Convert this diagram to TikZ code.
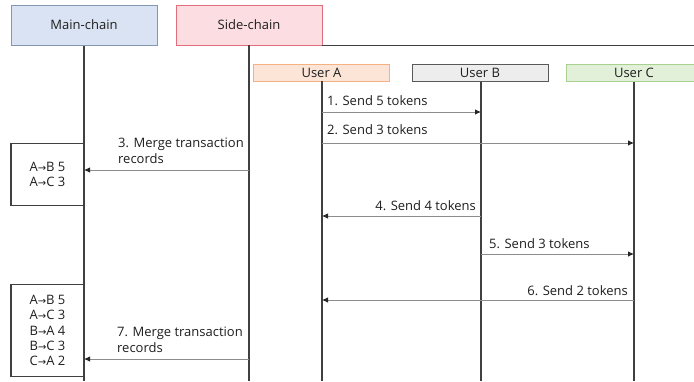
\documentclass[tikz,border=0pt]{standalone}
\usepackage{fontspec}
\setmainfont{Open Sans}
\newfontfamily\arrfont{DejaVu Sans}
\usetikzlibrary{arrows.meta}
\definecolor{mainfill}{RGB}{218,227,243}
\definecolor{maindraw}{RGB}{132,151,176}
\definecolor{sidefill}{RGB}{251,221,226}
\definecolor{sidedraw}{RGB}{226,110,124}
\definecolor{afill}{RGB}{252,228,214}
\definecolor{adraw}{RGB}{244,177,131}
\definecolor{bfill}{RGB}{237,237,237}
\definecolor{bdraw}{RGB}{89,89,89}
\definecolor{cfill}{RGB}{226,240,217}
\definecolor{cdraw}{RGB}{169,209,142}
\definecolor{txt}{RGB}{30,30,30}
\definecolor{lifec}{RGB}{64,64,64}
\definecolor{msgc}{RGB}{140,140,140}
\newcommand{\ar}{{\arrfont\fontsize{10}{15}\selectfont →}}
\begin{document}
\begin{tikzpicture}[x=1pt,y=-1pt,
  font=\fontsize{13}{15.5}\selectfont, text=txt,
  hdr/.style={draw, line width=1pt, minimum width=146pt, minimum height=40pt, inner sep=0pt},
  usr/.style={draw, line width=1pt, minimum width=136pt, minimum height=17pt, inner sep=0pt},
  life/.style={draw=lifec, line width=1.2pt},
  msg/.style={draw=msgc, line width=0.8pt, arrows={-{Latex[length=6pt,width=5.5pt,color=black!85]}}},
  lbl/.style={inner sep=0pt, align=left},
  rec/.style={draw=lifec, line width=1.2pt, inner sep=0pt, align=center, minimum width=73pt, font=\fontsize{13}{15.4}\selectfont}]
\useasboundingbox (0,0) rectangle (694,381);
% headers
\node[hdr, fill=mainfill, draw=maindraw] (main) at (84,25) {Main-chain};
\node[hdr, fill=sidefill, draw=sidedraw] (side) at (249,25) {Side-chain};
\node[usr, fill=afill, draw=adraw] (ua) at (321.5,72.5) {User A};
\node[usr, fill=bfill, draw=bdraw] (ub) at (480,73) {User B};
\node[usr, fill=cfill, draw=cdraw] (uc) at (634,73) {User C};
% lifeline ends
\coordinate (mainEnd) at (84,381);
\coordinate (sideTop) at (249,45);
\coordinate (sideEnd) at (249,381);
\coordinate (aTop) at (322,81);
\coordinate (aEnd) at (322,381);
\coordinate (bTop) at (481,82);
\coordinate (bEnd) at (481,381);
\coordinate (cTop) at (634,82);
\coordinate (cEnd) at (634,381);
\coordinate (sideR) at (322,45.5);
\coordinate (frameR) at (694,45.5);
\draw[life] (main.south) -- (mainEnd);
\draw[life] (sideTop) -- (sideEnd);
\draw[life] (sideR) -- (frameR);
\draw[life] (aTop) -- (aEnd);
\draw[life] (bTop) -- (bEnd);
\draw[life] (cTop) -- (cEnd);
% record boxes
\node[rec, minimum height=62pt] (rec1) at (47.5,174.5) {A\ar B 5\\A\ar C 3};
\node[rec, minimum height=92pt] (rec2) at (47.5,330.5) {A\ar B 5\\A\ar C 3\\B\ar A 4\\B\ar C 3\\C\ar A 2};
% message points
\coordinate (m1s) at (322,112); \coordinate (m1e) at (481,112);
\coordinate (m2s) at (322,143); \coordinate (m2e) at (634,143);
\coordinate (m3s) at (249,170); \coordinate (m3e) at (84,170);
\coordinate (m4s) at (481,216); \coordinate (m4e) at (322,216);
\coordinate (m5s) at (481,254); \coordinate (m5e) at (634,254);
\coordinate (m6s) at (634,300); \coordinate (m6e) at (322,300);
\coordinate (m7s) at (249,359); \coordinate (m7e) at (84,359);
\draw[msg] (m1s) -- (m1e);
\draw[msg] (m2s) -- (m2e);
\draw[msg] (m3s) -- (m3e);
\draw[msg] (m4s) -- (m4e);
\draw[msg] (m5s) -- (m5e);
\draw[msg] (m6s) -- (m6e);
\draw[msg] (m7s) -- (m7e);
% labels
\node[lbl, anchor=west] (l1) at (327,101) {1. Send 5 tokens};
\node[lbl, anchor=west] (l2) at (327,130) {2. Send 3 tokens};
\node[lbl, anchor=north west] (l3) at (118,138) {3. Merge transaction\\records};
\node[lbl, anchor=east] (l4) at (476,206) {4. Send 4 tokens};
\node[lbl, anchor=west] (l5) at (489,244) {5. Send 3 tokens};
\node[lbl, anchor=east] (l6) at (628,291) {6. Send 2 tokens};
\node[lbl, anchor=north west] (l7) at (117,327) {7. Merge transaction\\records};
\end{tikzpicture}
\end{document}
